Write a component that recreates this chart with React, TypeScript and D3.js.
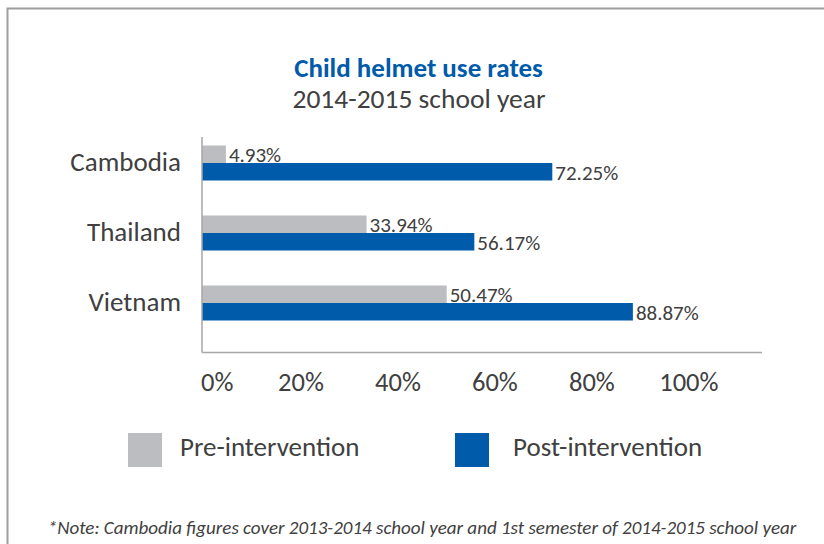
import React from "react";
import * as d3 from "d3";

const categories = ["Cambodia", "Thailand", "Vietnam"];
const preValues = [4.93, 33.94, 50.47];
const postValues = [72.25, 56.17, 88.87];
const tickValues = [0, 20, 40, 60, 80, 100];
const seriesNames = ["Pre-intervention", "Post-intervention"];

const W = 824;
const H = 544;
const FONT = "Carlito, Lato, 'Open Sans', sans-serif";
const GRAY = "#bcbdc0";
const BLUE = "#005baa";
const TEXT = "#404040";

export default function App() {
  const x = d3.scaleLinear().domain([0, 115.5]).range([202, 762]);
  const y = d3.scaleBand<string>().domain(categories).range([128, 338]).paddingInner(0.5).paddingOuter(0.25);
  const barH = y.bandwidth() / 2;
  const series = [
    { name: seriesNames[0], values: preValues, color: GRAY },
    { name: seriesNames[1], values: postValues, color: BLUE },
  ];
  const fmt = (v: number) => v.toFixed(2) + "%";
  const legendX = [128, 455];
  const legendTextX = [180, 513];

  return (
    <svg
      width={W}
      height={H}
      style={{ position: "absolute", left: 0, top: 0, background: "#fff" }}
      fontFamily={FONT}
    >
      <rect x={7.5} y={8.5} width={900} height={700} fill="#fff" stroke="#9e9e9e" strokeWidth={2} />
      <text x={418.5} y={77} textAnchor="middle" fontSize={27} fontWeight={700} fill={BLUE}>
        Child helmet use rates
      </text>
      <text x={419} y={108} textAnchor="middle" fontSize={27.5} fill={TEXT}>
        2014-2015 school year
      </text>

      {categories.map((c, i) => {
        const y0 = y(c)!;
        return (
          <g key={c}>
            <text x={181} y={y0 + barH + 8} textAnchor="end" fontSize={27} fill={TEXT}>
              {c}
            </text>
            {series.map((s, j) => {
              const v = s.values[i];
              const by = y0 + j * barH;
              return (
                <g key={s.name}>
                  <rect x={x(0)} y={by} width={x(v) - x(0)} height={barH} fill={s.color} />
                  <text x={x(v) + 3} y={by + barH - 1} fontSize={21} fill={TEXT}>
                    {fmt(v)}
                  </text>
                </g>
              );
            })}
          </g>
        );
      })}

      <line x1={x(0)} x2={x(0)} y1={137} y2={352.5} stroke="#a6a6a6" strokeWidth={1.5} />
      <line x1={x(0)} x2={762} y1={352.5} y2={352.5} stroke="#a6a6a6" strokeWidth={1.5} />
      {tickValues.map((t) => (
        <text
          key={t}
          x={t === 0 ? x(0) - 1 : x(t) + 2}
          y={391}
          textAnchor={t === 0 ? "start" : "middle"}
          fontSize={26.5}
          fill={TEXT}
        >
          {t + "%"}
        </text>
      ))}

      {series.map((s, j) => (
        <g key={s.name}>
          <rect x={legendX[j]} y={433} width={34} height={34} fill={s.color} />
          <text x={legendTextX[j]} y={456} fontSize={27} fill={TEXT}>
            {s.name}
          </text>
        </g>
      ))}

      <text x={422} y={534} textAnchor="middle" fontSize={19} fontStyle="italic" fill={TEXT}>
        *Note: Cambodia figures cover 2013-2014 school year and 1st semester of 2014-2015 school year
      </text>
    </svg>
  );
}
